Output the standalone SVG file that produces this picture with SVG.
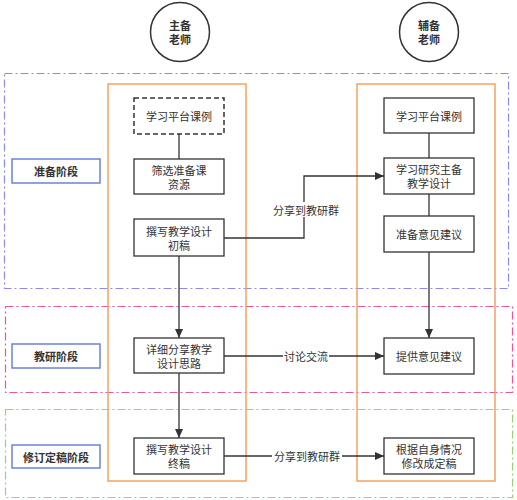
<svg xmlns="http://www.w3.org/2000/svg" width="517" height="500" viewBox="0 0 517 500">
<defs>
<marker id="arr" markerWidth="10" markerHeight="10" refX="9" refY="5" orient="auto" markerUnits="userSpaceOnUse">
<path d="M0,1 L9,5 L0,9 Z" fill="#333"/>
</marker>
<style>
text{font-family:"Noto Sans CJK SC","Noto Sans",sans-serif;font-size:11px;fill:#333;text-anchor:middle;dominant-baseline:central}
.b{font-weight:bold}
.node{fill:#fff;stroke:#333;stroke-width:1.3}
.dash{stroke-dasharray:5 3;stroke-width:1.5}
.stage{fill:#fff;stroke:#6b82d6;stroke-width:1.5}
.sec{fill:none;stroke-width:1.2;stroke-dasharray:8 3 2 3}
.cont{fill:none;stroke:#f4a262;stroke-width:1.5}
.ln{fill:none;stroke:#333;stroke-width:1.3}
.lbl{fill:#fff}
</style>
</defs>
<rect width="517" height="500" fill="#fff"/>
<g id="sections">
<rect class="sec" x="4.5" y="73.5" width="504" height="215" stroke="#8c8ce6"/>
<rect class="sec" x="5.5" y="306.5" width="507" height="86" stroke="#e8569c"/>
<rect class="sec" x="5.5" y="409.5" width="507" height="88" stroke="#9ad27c"/>
</g>
<g id="containers">
<rect class="cont" x="108" y="84" width="138" height="397"/>
<rect class="cont" x="357" y="84" width="138" height="397"/>
</g>
<g id="stage-prep"><rect class="stage" x="12" y="159" width="88" height="24"/><text class="b" x="56" y="171">准备阶段</text></g>
<g id="stage-research"><rect class="stage" x="12" y="344" width="88" height="24"/><text class="b" x="56" y="356">教研阶段</text></g>
<g id="stage-revise"><rect class="stage" x="12" y="445" width="88" height="23"/><text class="b" x="56" y="456.5">修订定稿阶段</text></g>
<g id="main-teacher"><circle cx="180" cy="32" r="29.5" fill="#fff" stroke="#333" stroke-width="1.5"/><text class="b" x="180" y="25">主备</text><text class="b" x="180" y="39">老师</text></g>
<g id="assist-teacher"><circle cx="429" cy="32" r="29.5" fill="#fff" stroke="#333" stroke-width="1.5"/><text class="b" x="429" y="25">辅备</text><text class="b" x="429" y="39">老师</text></g>
<g id="connectors">
<line class="ln" x1="179" y1="134" x2="179" y2="159"/>
<line class="ln" x1="179" y1="256" x2="179" y2="338" marker-end="url(#arr)"/>
<line class="ln" x1="179" y1="373" x2="179" y2="438" marker-end="url(#arr)"/>
<line class="ln" x1="429" y1="133" x2="429" y2="158"/>
<line class="ln" x1="429" y1="194" x2="429" y2="216"/>
<line class="ln" x1="429" y1="252" x2="429" y2="338" marker-end="url(#arr)"/>
<polyline class="ln" points="224,238 304,238 304,176 384,176" marker-end="url(#arr)"/>
<rect class="lbl" x="271" y="202" width="70" height="15"/>
<text x="306" y="209.5">分享到教研群</text>
<line class="ln" x1="224" y1="356" x2="384" y2="356" marker-end="url(#arr)"/>
<rect class="lbl" x="283" y="349" width="46" height="15"/>
<text x="306" y="356">讨论交流</text>
<line class="ln" x1="224" y1="456" x2="384" y2="456" marker-end="url(#arr)"/>
<rect class="lbl" x="272" y="449" width="70" height="15"/>
<text x="307" y="456">分享到教研群</text>
</g>
<g id="n1"><rect class="node dash" x="134" y="98" width="90" height="36"/><text x="179" y="116">学习平台课例</text></g>
<g id="n2"><rect class="node" x="134" y="159" width="90" height="35"/><text x="179" y="170">筛选准备课</text><text x="179" y="184">资源</text></g>
<g id="n3"><rect class="node" x="134" y="219" width="90" height="37"/><text x="179" y="231">撰写教学设计</text><text x="179" y="245">初稿</text></g>
<g id="n4"><rect class="node" x="134" y="338" width="90" height="35"/><text x="179" y="349">详细分享教学</text><text x="179" y="363">设计思路</text></g>
<g id="n5"><rect class="node" x="134" y="438" width="90" height="36"/><text x="179" y="449">撰写教学设计</text><text x="179" y="463">终稿</text></g>
<g id="m1"><rect class="node" x="384" y="98" width="90" height="35"/><text x="429" y="115.5">学习平台课例</text></g>
<g id="m2"><rect class="node" x="384" y="158" width="90" height="36"/><text x="429" y="169">学习研究主备</text><text x="429" y="183">教学设计</text></g>
<g id="m3"><rect class="node" x="384" y="216" width="90" height="36"/><text x="429" y="234">准备意见建议</text></g>
<g id="m4"><rect class="node" x="384" y="338" width="90" height="36"/><text x="429" y="356">提供意见建议</text></g>
<g id="m5"><rect class="node" x="384" y="438" width="90" height="36"/><text x="429" y="449">根据自身情况</text><text x="429" y="463">修改成定稿</text></g>
</svg>
